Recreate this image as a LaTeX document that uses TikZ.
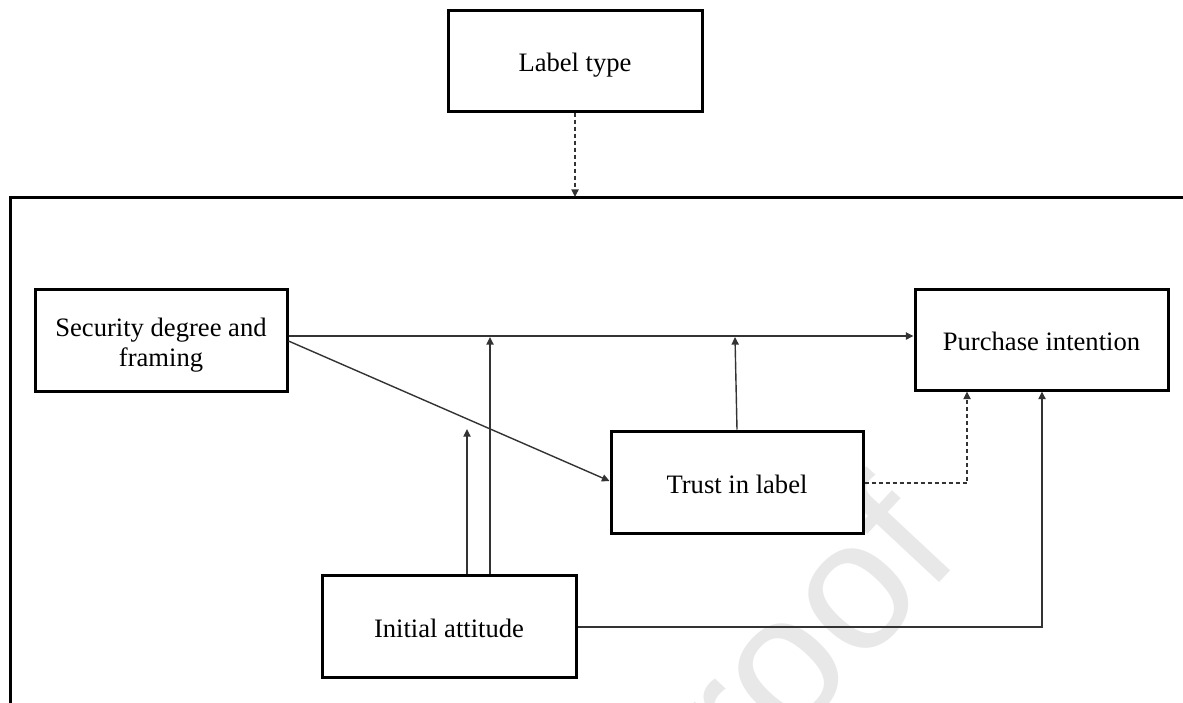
\documentclass[tikz,border=0pt]{standalone}
\usepackage{fontspec}
\setmainfont{Liberation Serif}
\newfontfamily\wmfont{Liberation Sans}
\usetikzlibrary{arrows.meta}
\newcommand{\lowtext}[1]{\raisebox{0pt}[\dimexpr\height+5pt\relax][\depth]{\begin{tabular}{@{}c@{}}#1\end{tabular}}}
\tikzset{
  box/.style={draw=black, line width=1.5pt, fill=white, align=center, inner sep=0pt,
              font=\fontsize{13.3}{15}\selectfont},
  conn/.style={draw=black!80, line width=0.7pt, -{Triangle[length=3.8pt,width=3.6pt]}},
  dashconn/.style={conn, dash pattern=on 2pt off 1.5pt},
  frame/.style={draw=black, line width=1.5pt},
  watermark/.style={text=black!9, font=\wmfont\fontsize{92}{92}\selectfont}
}
\begin{document}
\begin{tikzpicture}[x=0.5pt,y=-0.5pt]
\useasboundingbox (0,0) rectangle (1183,702);
\clip (0,0) rectangle (1183,702);
\fill[white] (0,0) rectangle (1183,702);
% watermark
\node[watermark, rotate=47] (wm) at (786,678) {proof};
% frame (open, continues outside the picture)
\coordinate (fbl) at (10,720);
\coordinate (ftr) at (1200,197);
\draw[frame] (fbl) |- (ftr);
\coordinate (ftop) at (575,197);
% boxes
\node[box, minimum width=127pt, minimum height=50.5pt] (lt) at (575,60.5) {\lowtext{Label type}};
\node[box, minimum width=126pt, minimum height=51pt] (sec) at (161,340) {\lowtext{Security degree and\\framing}};
\node[box, minimum width=126.5pt, minimum height=50.5pt] (pur) at (1041.5,339.5) {\lowtext{Purchase intention}};
\node[box, minimum width=126pt, minimum height=51pt] (tru) at (737,482) {\lowtext{Trust in label}};
\node[box, minimum width=127pt, minimum height=51pt] (ini) at (449,626) {\lowtext{Initial attitude}};
% connectors
\draw[dashconn] (lt.south) -- (ftop);
\draw[conn] (sec.east |- 0,336) -- (pur.west |- 0,336);
\draw[conn] (sec.east |- 0,341) -- (tru.west |- 0,481);
\coordinate (c1) at (467,429);
\coordinate (j1) at (490,337);
\coordinate (j2) at (735,337);
\draw[conn] (ini.north -| 467,0) -- (c1);
\draw[conn] (ini.north -| 490,0) -- (j1);
\draw[conn] (tru.north) -- (j2);
\draw[dashconn] (tru.east |- 0,483) -| (pur.south -| 967,0);
\draw[conn] (ini.east |- 0,627) -| (pur.south -| 1042,0);
\end{tikzpicture}
\end{document}
